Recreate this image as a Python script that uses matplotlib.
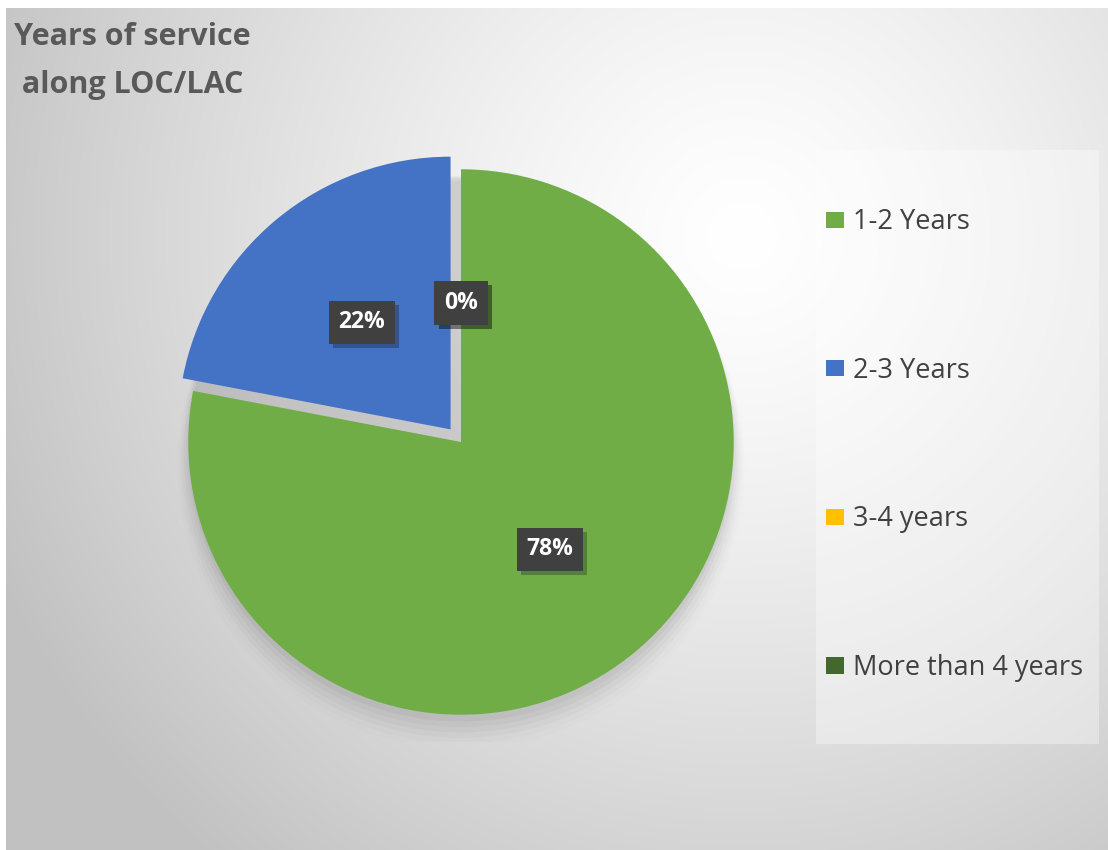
import numpy as np
import matplotlib.pyplot as plt
import matplotlib.patheffects as pe
from matplotlib.patches import Rectangle, Wedge

# Service-length breakdown
categories = ['1-2 Years', '2-3 Years', '3-4 years', 'More than 4 years']
shares = [78, 22, 0, 0]
colors = ['#70AD47', '#4472C4', '#FFC000', '#43682B']
explode = [0, 0.06, 0, 0]

W, H = 1108, 850
plt.rcParams['font.family'] = ['Open Sans', 'DejaVu Sans']

fig = plt.figure(figsize=(W / 100, H / 100), dpi=100)
fig.patch.set_facecolor('white')

# radial gray gradient behind the chart
bg = fig.add_axes([6 / W, 0, 1 - 6 / W, 1 - 8 / H])
yy, xx = np.mgrid[0:H, 0:W]
cx, cy = 740, 230
r = np.sqrt((xx - cx) ** 2 + (yy - cy) ** 2)
r = np.clip(r / 820, 0, 1)
shade = 1.0 - 0.24 * r ** 1.3
bg.imshow(np.dstack([shade] * 3), aspect='auto', extent=[0, W, H, 0])
bg.set_xlim(0, W)
bg.set_ylim(H, 0)
bg.axis('off')

# lighter panel behind the legend
bg.add_patch(Rectangle((814, 143), 285, 600, facecolor='white', alpha=0.35,
                       edgecolor='none'))

# pie axes: centre at (461, 442) px, radius ~273 px
ax = fig.add_axes([161 / W, (H - 742) / H, 600 / W, 600 / H])

# soft shadow under the pie
for k, a in enumerate(np.linspace(0.035, 0.008, 6)):
    ax.add_patch(Wedge((0.0, -0.025 - 0.012 * k), 1.0 + 0.008 * k, 0, 360,
                       facecolor='black', alpha=a, edgecolor='none', zorder=0))

wedges, texts, autotexts = ax.pie(
    shares, colors=colors, explode=explode, startangle=90, counterclock=False,
    autopct='%1.0f%%', pctdistance=0.51, radius=1.0,
    wedgeprops=dict(linewidth=0), textprops=dict(zorder=5))
ax.set_xlim(-1.1, 1.1)
ax.set_ylim(-1.1, 1.1)
ax.set_aspect('equal')
ax.axis('off')

for t in autotexts:
    t.set_color('white')
    t.set_fontsize(16.5)
    t.set_fontweight('bold')
    t.set_bbox(dict(boxstyle='square,pad=0.42', facecolor='#404040',
                    edgecolor='none'))
    t.get_bbox_patch().set_path_effects([
        pe.SimplePatchShadow(offset=(3, -3), shadow_rgbFace='black', alpha=0.25),
        pe.Normal()])

fig.legend(wedges, categories, loc='upper left',
           bbox_to_anchor=(802 / W, 1 - 184 / H), frameon=False,
           fontsize=19.5, labelcolor='#404040', handlelength=0.66,
           handleheight=0.55, handletextpad=0.33, labelspacing=4.45)

fig.text(14 / W, 1 - 22 / H, 'Years of service\n along LOC/LAC',
         ha='left', va='top', fontsize=22, fontweight='bold',
         color='#595959', linespacing=1.78)

fig.savefig('out.png', dpi=100)
